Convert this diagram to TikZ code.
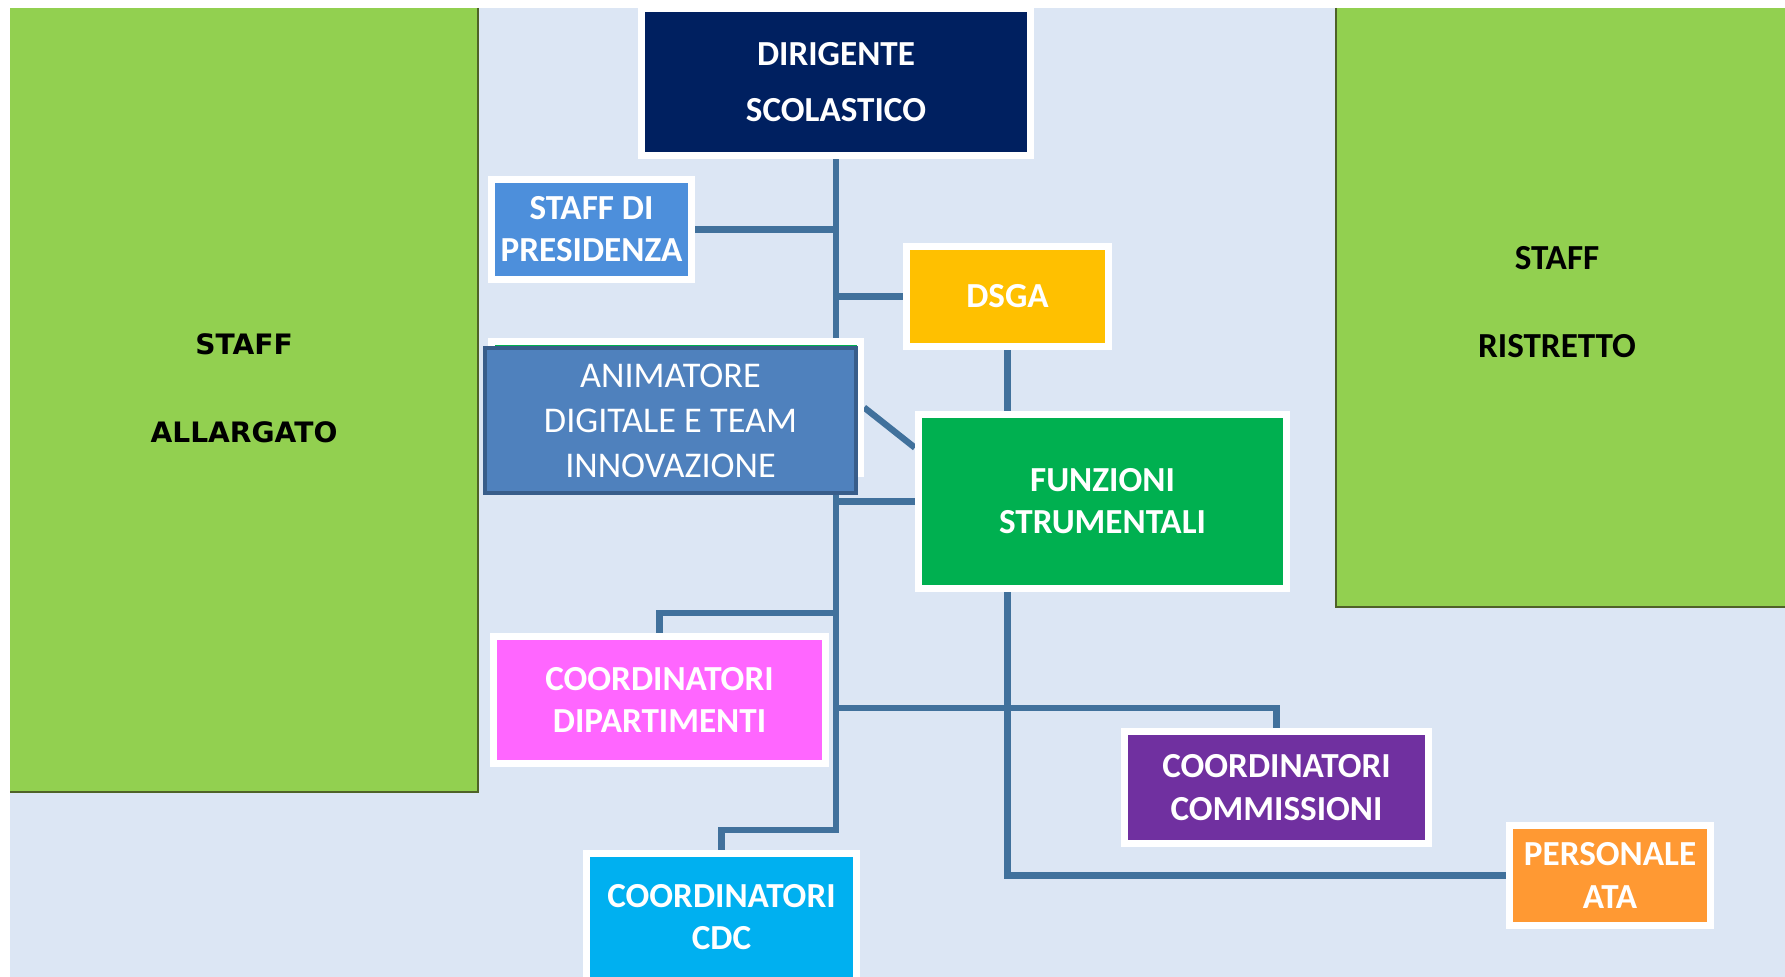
\documentclass[tikz,border=0pt]{standalone}
\usepackage{fontspec}
\setmainfont{Carlito}
\newfontfamily\largo{DejaVu Sans}

\definecolor{sfondo}{HTML}{DCE6F4}
\definecolor{prato}{HTML}{92D050}
\definecolor{bordoprato}{HTML}{4F6228}
\definecolor{notte}{HTML}{002060}
\definecolor{cielo}{HTML}{4D8FDB}
\definecolor{oro}{HTML}{FFC000}
\definecolor{verde}{HTML}{00B050}
\definecolor{azzurro}{HTML}{4F81BD}
\definecolor{bordoazz}{HTML}{385D8A}
\definecolor{rosa}{HTML}{FF66FF}
\definecolor{viola}{HTML}{7030A0}
\definecolor{arancio}{HTML}{FF9933}
\definecolor{ciano}{HTML}{00B0F0}
\definecolor{linea}{HTML}{41719C}

\pgfdeclarelayer{fondo}
\pgfdeclarelayer{linee}
\pgfsetlayers{fondo,linee,main}

\tikzset{
 carica/.style={rectangle, draw=white, line width=2pt, inner sep=0pt, text=white,
   align=center, font=\bfseries\fontsize{10}{12}\selectfont},
 filo/.style={draw=linea, line width=1.8pt},
 scritta/.style={text=black, align=center, font=\bfseries\fontsize{10}{25}\selectfont},
}

\newcommand{\carica}[6]{%
 \node (#1) [carica, fill=#5, minimum width=#3, minimum height=#4] at (#2) {#6};%
}

\begin{document}
\begin{tikzpicture}[x=0.01cm, y=-0.01cm]
   \useasboundingbox (0,0) rectangle (1785,977);
   \begin{pgfonlayer}{fondo}
    \fill[white] (0,0) rectangle (1785,977);
    \fill[sfondo] (10,8) rectangle (1785,977);
    \fill[prato] (10,8) rectangle (478,792);
    \draw[bordoprato, line width=0.7pt] (478,8) -- (478,792) -- (10,792);
    \fill[prato] (1336,8) rectangle (1785,607);
    \draw[bordoprato, line width=0.7pt] (1336,8) -- (1336,607) -- (1785,607);
   \end{pgfonlayer}
   \node (allargato) [scritta, font=\largo\bfseries\fontsize{8}{25}\selectfont] at (244,388) {STAFF\\ALLARGATO};
   \node (ristretto) [scritta] at (1557,302) {STAFF\\RISTRETTO};
   \carica{dir}{836,82}{3.89cm}{1.47cm}{notte}{DIRIGENTE\\[4pt]SCOLASTICO}
   \carica{pres}{591.5,229.5}{2.00cm}{1.00cm}{cielo}{STAFF DI\\PRESIDENZA}
   \carica{dsga}{1007.5,296.5}{2.02cm}{1.00cm}{oro}{DSGA}
   \carica{ghost}{676,407.5}{3.69cm}{1.32cm}{verde}{}
   \node (anim) [rectangle, fill=azzurro, draw=bordoazz, line width=1pt, inner sep=0pt,
     minimum width=3.71cm, minimum height=1.45cm, text=white, align=center,
     font=\fontsize{10.3}{12.8}\selectfont] at (670.5,420.5) {ANIMATORE\\DIGITALE E TEAM\\INNOVAZIONE};
   \carica{fun}{1102.5,501.5}{3.68cm}{1.74cm}{verde}{FUNZIONI\\STRUMENTALI}
   \carica{dip}{659.5,700}{3.32cm}{1.27cm}{rosa}{COORDINATORI\\DIPARTIMENTI}
   \carica{com}{1276.5,787.5}{3.04cm}{1.12cm}{viola}{COORDINATORI\\COMMISSIONI}
   \carica{pers}{1610,875.5}{2.01cm}{1.00cm}{arancio}{PERSONALE\\ATA}
   \carica{cdc}{721.5,917}{2.70cm}{1.27cm}{ciano}{COORDINATORI\\CDC}
   \begin{pgfonlayer}{linee}
    \coordinate (jdip) at (836,613);
    \coordinate (jcom) at (836,708);
    \coordinate (jcdc) at (836,830);
    \draw[filo] (dir) -- (jcdc) -| (cdc);
    \draw[filo] (pres) -- (pres -| dir);
    \draw[filo] (dsga) -- (dsga -| dir);
    \draw[filo] (dsga) -- (fun.north -| dsga);
    \draw[filo] (ghost.east) -- (fun.164);
    \draw[filo] (fun) -- (fun -| dir);
    \draw[filo] (jdip) -| (dip);
    \draw[filo] (jcom) -| (com);
    \draw[filo] (fun.south -| dsga) |- (pers);
   \end{pgfonlayer}
\end{tikzpicture}
\end{document}
